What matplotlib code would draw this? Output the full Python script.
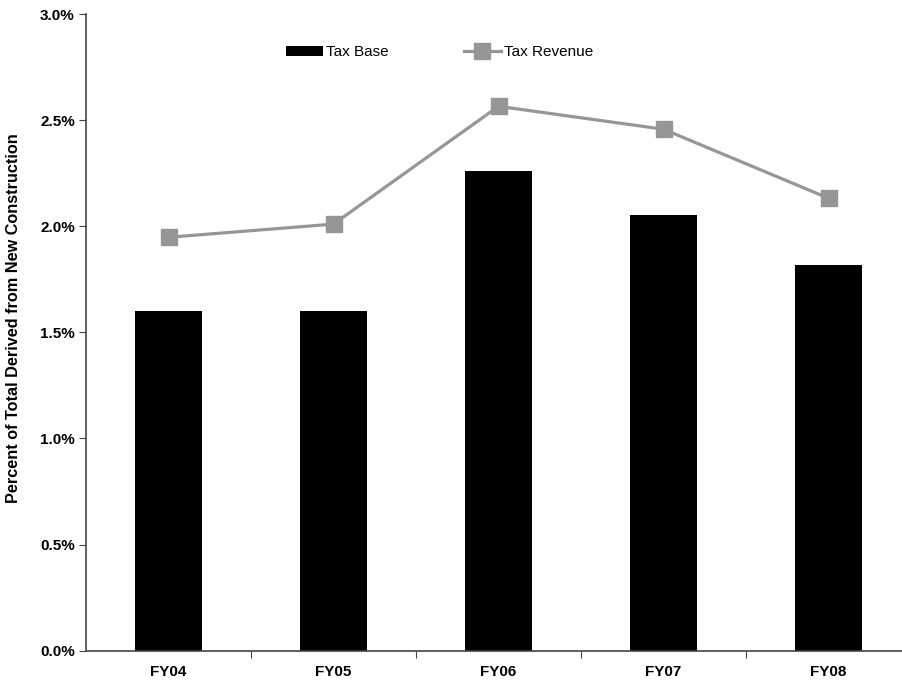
import numpy as np
import matplotlib.pyplot as plt
from matplotlib.ticker import FuncFormatter

plt.rcParams['font.family'] = ['Liberation Sans', 'DejaVu Sans']

# data
years = ["FY04", "FY05", "FY06", "FY07", "FY08"]
tax_base = [1.60, 1.60, 2.26, 2.055, 1.815]
tax_revenue = [1.948, 2.01, 2.565, 2.457, 2.132]

fig = plt.figure(figsize=(9.02, 6.83), dpi=100)
ax = fig.add_axes([86 / 902, 1 - 650.7 / 683, 825 / 902, (650.7 - 14) / 683])

x = np.arange(len(years))
bars = ax.bar(x, tax_base, width=0.41, color='black', label='Tax Base', zorder=2)
line, = ax.plot(x, tax_revenue, color='#969696', lw=2.3, marker='s', markersize=11.5,
                label='Tax Revenue', zorder=3)

ax.set_xlim(-0.5, len(years) - 0.5)
ax.set_ylim(0, 3.0)
ax.set_yticks(np.arange(0, 3.01, 0.5))
ax.yaxis.set_major_formatter(FuncFormatter(lambda v, p: f"{v:.1f}%"))

# category labels between boundary ticks
ax.set_xticks(np.arange(0.5, len(years) - 0.5, 1))
ax.set_xticklabels([])
ax.set_xticks(x, minor=True)
ax.set_xticklabels(years, minor=True, fontsize=11, fontweight='bold')
ax.tick_params(axis='x', which='minor', length=0, pad=10)
ax.tick_params(axis='x', which='major', length=5, direction='out', color='#444444')
ax.tick_params(axis='y', length=5, direction='out', color='#444444', labelsize=11, pad=3)
for lbl in ax.get_yticklabels():
    lbl.set_fontweight('bold')

for s in ['top', 'right']:
    ax.spines[s].set_visible(False)
for s in ['left', 'bottom']:
    ax.spines[s].set_color('#444444')
    ax.spines[s].set_linewidth(1.2)

ax.set_ylabel("Percent of Total Derived from New Construction", fontsize=11.7,
              fontweight='bold')
ax.yaxis.set_label_coords(-0.079, 0.522)

fig.legend([bars, line], ['Tax Base', 'Tax Revenue'], loc='center left',
           bbox_to_anchor=(286 / 902, 1 - 52.5 / 683), bbox_transform=fig.transFigure,
           ncol=2, frameon=False, fontsize=11, handlelength=2.4, handleheight=0.55,
           columnspacing=4.9, handletextpad=0.25, borderpad=0, borderaxespad=0)

fig.savefig("out.png", dpi=100)
